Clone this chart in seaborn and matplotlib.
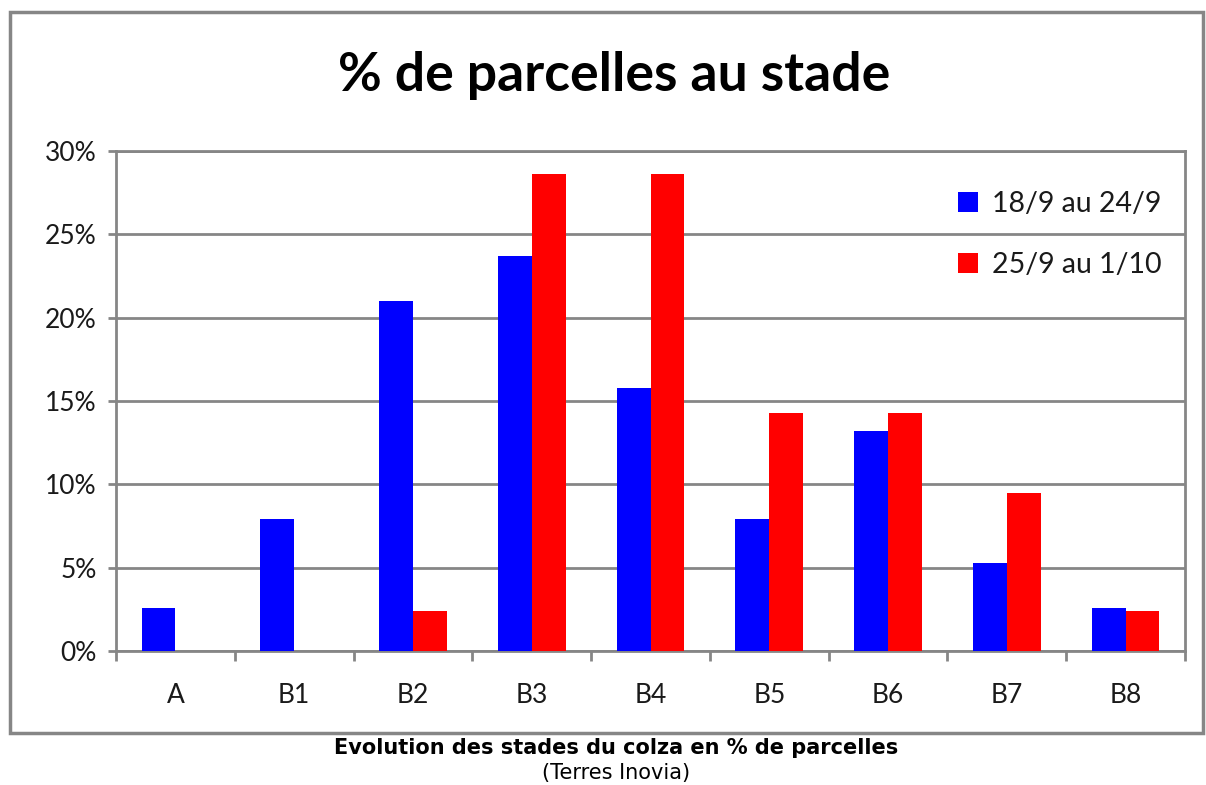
import pandas as pd
import matplotlib
matplotlib.use('Agg')
import matplotlib.pyplot as plt
import matplotlib.patches as mpatches
from matplotlib.ticker import FixedLocator, PercentFormatter
import seaborn as sns

# données (% de parcelles)
stades = ['A', 'B1', 'B2', 'B3', 'B4', 'B5', 'B6', 'B7', 'B8']
periode_1 = [2.6, 7.9, 21.0, 23.7, 15.8, 7.9, 13.2, 5.3, 2.6]
periode_2 = [0.0, 0.0, 2.4, 28.6, 28.6, 14.3, 14.3, 9.5, 2.4]
series = ['18/9 au 24/9', '25/9 au 1/10']
couleurs = ['#0000FF', '#FF0000']
yticks = [0, 5, 10, 15, 20, 25, 30]

df = pd.DataFrame({
    'stade': stades * 2,
    'pct': periode_1 + periode_2,
    'periode': [series[0]] * len(stades) + [series[1]] * len(stades),
})

sns.set_style('white')
plt.rcParams['font.family'] = ['Lato', 'DejaVu Sans']
gris = '#868686'

fig = plt.figure(figsize=(12.06, 7.85), dpi=100)
ax = fig.add_axes([116 / 1206, 1 - 651 / 785, (1185 - 116) / 1206, 500 / 785])

sns.barplot(data=df, x='stade', y='pct', hue='periode', palette=couleurs,
            width=0.57, linewidth=0, saturation=1, ax=ax, zorder=3)

ax.set_ylim(0, 30)
ax.set_xlim(-0.5, len(stades) - 0.5)
ax.yaxis.set_major_locator(FixedLocator(yticks))
ax.yaxis.set_major_formatter(PercentFormatter(decimals=0))
ax.grid(axis='y', color=gris, linewidth=2, zorder=0)
for s in ax.spines.values():
    s.set_color(gris)
    s.set_linewidth(2)

ax.tick_params(axis='y', direction='out', length=6, width=2, color=gris,
               labelsize=19, pad=8, left=True, labelcolor='#1a1a1a')
ax.set_xticks(range(len(stades)))
ax.set_xticks([i - 0.5 for i in range(len(stades) + 1)], minor=True)
ax.tick_params(axis='x', which='major', length=0, pad=23, labelsize=19,
               labelcolor='#1a1a1a')
ax.tick_params(axis='x', which='minor', direction='out', length=7, width=2,
               color=gris, bottom=True)
ax.set_xlabel('')
ax.set_ylabel('')

leg = ax.legend(loc='upper right', bbox_to_anchor=(1.002, 0.972), frameon=False,
                fontsize=20.5, handlelength=0.7, handleheight=0.7,
                handletextpad=0.5, labelspacing=1.25, labelcolor='#1a1a1a')

fig.text(0.509, 1 - 76 / 785, '% de parcelles au stade', ha='center',
         va='center', fontsize=38.5, fontweight='bold', color='black')

# cadre du graphique
fig.patches.append(mpatches.Rectangle((10 / 1206, 1 - 733 / 785),
                                      1193 / 1206, 721 / 785,
                                      transform=fig.transFigure, fill=False,
                                      edgecolor=gris, linewidth=2.5))

fig.text(0.511, 1 - 748 / 785, 'Evolution des stades du colza en % de parcelles',
         ha='center', va='center', fontsize=15, fontweight='bold',
         family='DejaVu Sans', color='black')
fig.text(0.511, 1 - 773 / 785, '(Terres Inovia)', ha='center', va='center',
         fontsize=15, family='DejaVu Sans', color='black')

fig.savefig('out.png', dpi=100, facecolor='white')
